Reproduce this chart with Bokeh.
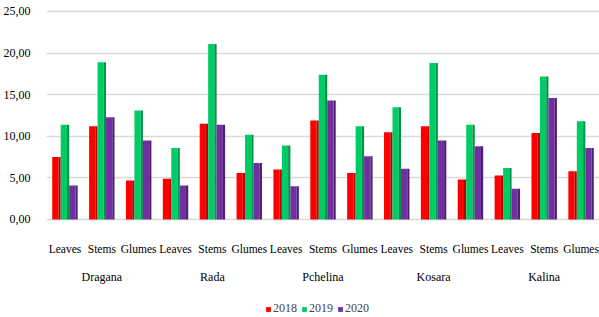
from bokeh.plotting import figure
from bokeh.models import FactorRange, Legend, LegendItem, FixedTicker, ColumnDataSource
from bokeh.transform import dodge
from bokeh.core.properties import value
from bokeh.embed import file_html
from bokeh.resources import INLINE

varieties = ["Dragana", "Rada", "Pchelina", "Kosara", "Kalina"]
parts = ["Leaves", "Stems", "Glumes"]
years = ["2018", "2019", "2020"]

v2018 = [7.5, 11.2, 4.7, 4.9, 11.5, 5.6, 6.0, 11.9, 5.6, 10.5, 11.2, 4.8, 5.3, 10.4, 5.8]
v2019 = [11.4, 18.9, 13.1, 8.6, 21.1, 10.2, 8.9, 17.4, 11.2, 13.5, 18.8, 11.4, 6.2, 17.2, 11.8]
v2020 = [4.1, 12.3, 9.5, 4.1, 11.4, 6.8, 4.0, 14.3, 7.6, 6.1, 9.5, 8.8, 3.7, 14.6, 8.6]

y_ticks = [0, 5, 10, 15, 20, 25]
y_tick_labels = ["0,00", "5,00", "10,00", "15,00", "20,00", "25,00"]

front_colors = ["#FF0000", "#00CC66", "#7030A0"]
side_colors = ["#B80000", "#00904A", "#4E2072"]

factors = [(v, pt) for v in varieties for pt in parts]
source = ColumnDataSource(dict(x=factors, part=[pt for v in varieties for pt in parts],
                               y2018=v2018, y2019=v2019, y2020=v2020))
group_source = ColumnDataSource(dict(x=[(v, parts[1]) for v in varieties], name=varieties))

FONT = "Liberation Serif"

p = figure(
    x_range=FactorRange(*factors, factor_padding=0, group_padding=0, range_padding=0),
    y_range=(-11.78, 25.72),
    width=599, height=317,
    output_backend="svg", toolbar_location=None,
    min_border_left=44, min_border_right=0, min_border_top=5, min_border_bottom=0,
    background_fill_color="white", border_fill_color="white",
)

pitch = 0.23
items = []
for i, (yr, fc, sc) in enumerate(zip(years, front_colors, side_colors)):
    off = (i - 1) * pitch
    col = "y" + yr
    r = p.vbar(x=dodge("x", off - 0.03, range=p.x_range), top=col, bottom=0, width=0.17,
               source=source, fill_color=fc, line_color=None)
    p.vbar(x=dodge("x", off + 0.085, range=p.x_range), top=col, bottom=0, width=0.06,
           source=source, fill_color=sc, line_color=None)
    items.append(LegendItem(label=yr, renderers=[r]))

# category labels (two levels) drawn below the zero line
p.text(x="x", y=-3.5, text="part", source=source, text_font=value(FONT),
       text_font_size="11.5px", text_align="center", text_baseline="middle",
       text_color="black")
p.text(x="x", y=-6.95, text="name", source=group_source, text_font=value(FONT),
       text_font_size="12px", text_align="center", text_baseline="middle",
       text_color="black")

p.xaxis.visible = False

p.yaxis.ticker = FixedTicker(ticks=y_ticks)
p.yaxis.major_label_overrides = {t: lab for t, lab in zip(y_ticks, y_tick_labels)}
p.yaxis.major_label_text_font = FONT
p.yaxis.major_label_text_font_size = "12px"
p.yaxis.major_label_text_color = "black"
p.yaxis.axis_line_color = None
p.yaxis.major_tick_line_color = None
p.yaxis.minor_tick_line_color = None
p.yaxis.major_label_standoff = 10

p.xgrid.grid_line_color = None
p.ygrid.grid_line_color = "#D9D9D9"
p.ygrid.grid_line_width = 1.6
p.outline_line_color = None

legend = Legend(items=items, orientation="horizontal", location=(219, 1),
                label_text_font=FONT, label_text_font_size="12px",
                glyph_width=6, glyph_height=6, label_standoff=2, spacing=4,
                padding=0, margin=0, border_line_color=None,
                background_fill_alpha=0, label_height=13)
p.add_layout(legend)

open("out.html", "w").write(file_html(p, INLINE))
